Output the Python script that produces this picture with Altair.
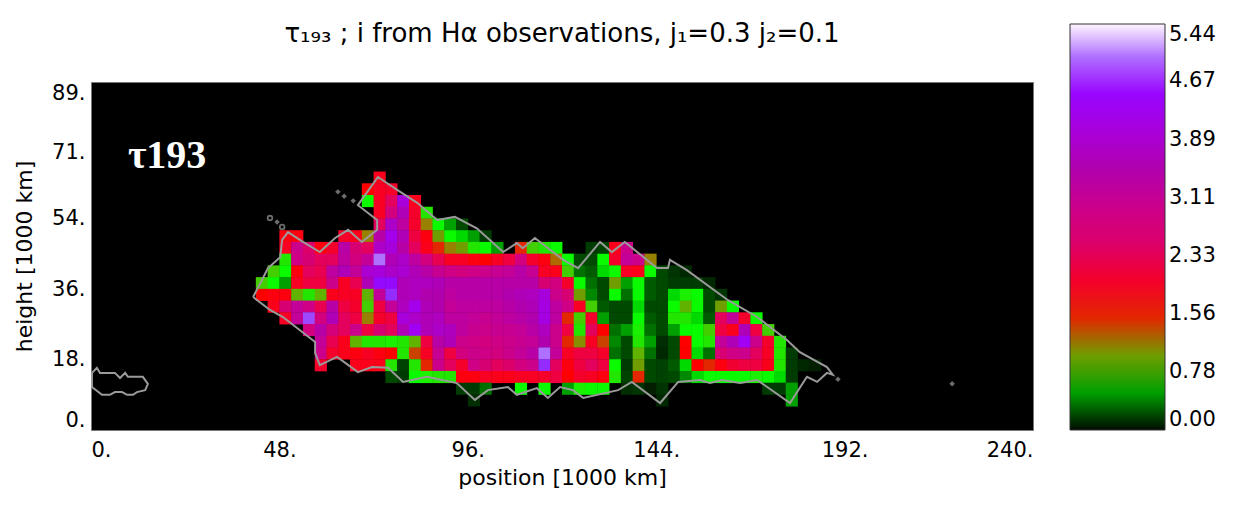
import altair as alt
import pandas as pd

# colour bar stops
stop_values = [0, 0.05, 0.31, 0.5, 0.58, 0.76, 0.98, 1.2, 1.43, 1.6, 2.1, 2.55, 3.08, 3.52, 3.98, 4.42, 4.73, 4.88, 5.05, 5.23, 5.44]
stop_colors = ["#000c00", "#002800", "#004a00", "#00a000", "#00ff00", "#28d800", "#6aa000", "#988000", "#d03000",
               "#ff0000", "#f00030", "#d80070", "#c80090", "#b000b0", "#a800d8", "#9c00ff", "#8f10ff", "#9a40ff", "#b880ff", "#e0c8ff", "#ffffff"]
bar_ticks = [0.0, 0.78, 1.56, 2.33, 3.11, 3.89, 4.67, 5.44]
x_ticks = [0, 48, 96, 144, 192, 240]
y_ticks = [0, 18, 36, 54, 71, 89]

# tau values: first column index, then values, one list per height band (1000 km)
h63 = (10, [1.8])
h60 = (9, [1.6, 1.9, 2.0])
h57 = (9, [.6, 1.9, 2.4, 4.0, 1.8])
h54 = (10, [1.9, 2.8, 3.6, 2.0, .7])
h51 = (10, [2.4, 3.8, 3.3, 2.0, 1.2, .6, .5, .3])
h48 = (2, [1.7, 1.7, 0, 0, 0, 2.0, 1.8, 1.2, 3.4, 4.2, 3.6, 2.2, 1.7, 1.0, .6, .55, .5, .2])
h45 = (2, [1.9, 3, 2.5, 1.7, 2, 3.4, 2.6, 2.4, 3.8, 4.0, 3.4, 2.4, 1.8, 1.5, 1.2, 1.0, .7, .6, .5, 0, 1.5, .8, .7, .6, 0, 0, .2, .25, 1.8, 3])
h42 = (2, [.7, 2.9, 2.6, 2.4, 2.4, 3.3, 2.8, 3.2, 5.0, 3.6, 3.8, 3.3, 2.8, 2.3, 1.9, 1.9, 1.7, 1.6, 1.9, 2.2, 2.8, 2.0, 1.7, 1.3, .6, .3, .3, .6, 2.0, 3.2, 3, 1.2])
h39 = (1, [.8, .6, 1.7, 2.4, 2.3, 3.3, 3.6, 3.2, 3.9, 4.0, 3.8, 3.9, 3.6, 3.4, 3.1, 2.9, 2.8, 2.9, 3.0, 3.1, 3.2, 3.4, 3.1, 1.9, 1.8, .8, .4, .35, .55, .6, 1.9, 1.8, .6, .3, .15, .05])
h36 = (0, [.8, .6, .5, 1.9, 2.2, 2.2, 3, 1.9, 2.3, 3.6, 4.6, 4.6, 3.6, 3.7, 3.7, 3.6, 3.4, 3.4, 3.4, 3.4, 3.4, 3.4, 3.4, 3.4, 2.6, 2.8, 2.0, .6, .4, .3, 1.0, .5, .6, .35, .3, .2, .2, .2, .05])
h33 = (0, [1.6, 1.7, 1.7, .9, .7, .9, 1.8, 1.9, 1.9, .9, 3.2, 4.8, 3.6, 3.7, 3.5, 3.5, 3.3, 3.4, 3.4, 3.4, 3.4, 3.5, 3.6, 3.7, 4.0, 3.0, 2.6, 1.0, .45, .3, .6, .4, .6, .35, .3, .55, .65, .6, .3, .15])
h30 = (1, [1.8, 2.6, 3.2, 2.9, 2.3, 3.4, 2.2, 2.0, .8, 2.2, 3.2, 3.7, 4.2, 3.6, 3.5, 3.2, 3.3, 3.3, 3.3, 3.3, 3.4, 3.5, 3.6, 4.1, 3.3, 2.9, 1.9, .8, .35, .3, .3, .55, .3, .3, .6, .9, .6, .3, 1.0, .6])
h27 = (2, [1.9, 3.2, 4.9, 2.8, 3.6, 2.4, 2.2, 1.2, 2.0, 2.2, 4.0, 3.8, 3.6, 3.7, 3.3, 3.3, 3.2, 3.1, 3.2, 3.3, 3.4, 3.5, 4.1, 3.3, 1.5, .8, 2.0, .5, .3, .3, .6, .35, .3, .7, .7, .55, .35, 2.4, 3.2, 2.0, .6])
h24 = (4, [2.8, 3.4, 2.7, 2.4, 3.0, 2.2, 2.6, 2.4, 3.6, 4.3, 3.6, 3.8, 3.7, 3.3, 3.1, 3.0, 3.1, 3.1, 3.2, 3.4, 3.7, 3, 2.2, .7, 2.4, 1.6, .4, .5, .65, .4, .3, .5, .6, .6, .8, 2.2, 1.8, 3.6, 2.2, .8])
h21 = (5, [3.2, 2.3, 1.8, .9, .7, .7, .65, .7, .9, 2.2, 3.4, 3.6, 3.0, 2.9, 2.8, 2.9, 3.0, 3.1, 3.2, 3.5, 3, 1.5, 1.1, 1.9, 1.4, .45, .3, .7, .5, .1, .3, 1.6, .6, .7, 3.2, 3.6, 4.3, 3, 2, .7])
h18 = (5, [3, 2, 1.8, 1.7, 1.9, 1.7, 1.6, .7, 1.4, 1.9, 3.1, 2.2, 2.8, 3.0, 2.9, 2.8, 3.0, 3.2, 3.4, 5, 3.2, 1.9, 2.2, 2.2, 2, .4, .3, .9, .4, .05, .3, 1.6, .55, .4, 2.6, 2.9, 3, 2.4, 1.9, .7, .2])
h15 = (5, [2.0, 0, 0, 1.8, 1.8, 1.8, .7, .25, .7, 1.5, 3.0, 2.4, 2.0, 2.9, 2.6, 2.4, 2.5, 2.8, 3.0, 4.8, 2.4, 1.7, 2.2, 2.4, 2.2, .6, .2, 1.0, .3, .25, .35, .55, 1.6, 1.5, 1.7, 2.1, 2.2, 2.2, 1.8, .7, .2, .05, .03])
h12 = (11, [.3, .2, .6, .65, .7, .7, 1.7, 1.7, 1.9, 1.8, 1.8, 1.9, 1.9, 2.0, 2.2, 1.6, 2.0, 1.9, 1.7, .7, .25, 1.5, .3, .25, .3, .45, .55, .6, .6, .6, .6, .65, .6, .55, .2])
h09 = (17, [.2, .2, .4, 0, 0, .6, 0, .6, 0, .5, .65, .6, .6, 0, .1, .15, .03, .15, 0, 0, 0, 0, 0, 0, 0, 0, .2, .2, .5])
h06 = (18, [.1, 0, 0, 0, 0, 0, 0, 0, 0, 0, 0, 0, 0, 0, 0, 0, .05, 0, 0, 0, 0, 0, 0, 0, 0, 0, 0, .5])

bands = {63: h63, 60: h60, 57: h57, 54: h54, 51: h51, 48: h48, 45: h45, 42: h42, 39: h39, 36: h36,
         33: h33, 30: h30, 27: h27, 24: h24, 21: h21, 18: h18, 15: h15, 12: h12, 9: h09, 6: h06}

# outlines (position, height in 1000 km)
main_x = [41.3, 45.1, 48.2, 48.7, 50.2, 54.0, 58.3, 62.2, 65.5, 69.0, 72.9, 72.9, 68.0, 73.1, 78.0, 83.1, 88.2, 92.7, 98.3, 105, 108.5, 110,
          113.1, 114.4, 120.3, 124.1, 129.7, 132.7, 136, 144.2, 147, 147.5, 151.8, 162.3, 169.7, 177.3, 180.6, 187.5, 189, 187.5, 185, 182.4,
          178.1, 169.7, 165.4, 160.8, 157.7, 155.2, 149.6, 145, 137.8, 134.3, 125.4, 122.8, 119.5, 116.4, 113.6, 108.5, 106.2, 101.1, 97.8,
          93.2, 85.6, 79.5, 75.7, 71.6, 68, 62.7, 58.3, 57.1, 57.1, 48.9, 45.6, 41.3]
main_y = [34.0, 41.4, 44.2, 48.6, 50.6, 48.1, 45.5, 49.1, 51.2, 48.1, 51.2, 53.7, 57.5, 64.7, 61.4, 58.1, 53.7, 54.5, 51.6, 45.5, 47.8, 46.5,
          49.1, 48.1, 43.5, 41.4, 48.1, 45.5, 48.1, 41.4, 41.4, 43.5, 40.9, 33.2, 28.9, 23, 19.9, 16.1, 14.1, 14.6, 12.3, 13.6,
          6.9, 12.8, 12, 12.8, 12, 12.8, 12.3, 6.9, 12.3, 10.2, 8.2, 10.2, 11, 8.2, 10.7, 9, 11, 10.2, 7.7,
          12, 13.6, 12.3, 15.9, 16.1, 14.8, 18.7, 16.6, 19.7, 22.5, 28.9, 30.7, 34]
blob_x = [.25, 1.5, 2.3, 6.1, 7.4, 8.7, 9.4, 13.2, 14.5, 13.8, 11.7, 10.7, 9.2, 7.9, 6.1, 4.8, 2.8, .25, .25]
blob_y = [14.6, 15.9, 14.6, 14.6, 13.3, 14.6, 13.6, 13.6, 11.8, 10.2, 9.7, 9, 9, 9.7, 9.7, 9, 9, 11, 14.6]
filled_x = [62.9, 64.5, 66.8, 47.4, 190.3, 219.4]
filled_y = [60.9, 59.8, 58.6, 53.2, 13, 11.8]
open_x = [45.6, 48.7]
open_y = [54.2, 51.9]

cells = []
for h, (start, vals) in bands.items():
    for i, v in enumerate(vals):
        if v > 0:
            p = 42 + 3 * (start + i)
            cells.append({"p": p, "p2": p + 3.1, "h": h, "h2": h + 3.1, "tau": v})
cells = pd.DataFrame(cells)

lines = pd.concat([
    pd.DataFrame({"x": main_x, "y": main_y, "g": "main", "o": range(len(main_x))}),
    pd.DataFrame({"x": blob_x, "y": blob_y, "g": "blob", "o": range(len(blob_x))}),
])
filled = pd.DataFrame({"x": filled_x, "y": filled_y})
opened = pd.DataFrame({"x": open_x, "y": open_y})
label = pd.DataFrame({"x": [9.4], "y": [67.0], "t": ["τ193"]})

FONT = "DejaVu Sans"
TEXT = "#000000"
x_scale = alt.Scale(domain=[0, 240], nice=False, zero=False)
y_scale = alt.Scale(domain=[0, 89], nice=False, zero=False)
c_scale = alt.Scale(domain=stop_values, range=stop_colors, type="linear")

rect = alt.Chart(cells).mark_rect().encode(
    x=alt.X("p:Q", scale=x_scale, axis=alt.Axis(
        values=x_ticks, title="position [1000 km]", labelExpr="datum.value + '.'", grid=False, ticks=False,
        domain=False, labelPadding=9, labelFontSize=21, labelFont=FONT, labelColor=TEXT,
        titleFontSize=22, titleFont=FONT, titleFontWeight="normal", titleColor=TEXT, titlePadding=7)),
    x2="p2:Q",
    y=alt.Y("h:Q", scale=y_scale, axis=alt.Axis(
        values=y_ticks, title="height [1000 km]", labelExpr="datum.value + '.'", grid=False, ticks=False,
        domain=False, labelPadding=6, labelFlush=True, labelFontSize=21, labelFont=FONT, labelColor=TEXT,
        titleFontSize=22, titleFont=FONT, titleFontWeight="normal", titleColor=TEXT, titlePadding=15)),
    y2="h2:Q",
    color=alt.Color("tau:Q", scale=c_scale,
                    legend=alt.Legend(orient="none", legendX=979, legendY=-58, title=None, direction="vertical",
                                      gradientLength=406, gradientThickness=95, values=bar_ticks, format=".2f",
                                      tickCount=100, labelFontSize=21, labelFont=FONT, labelColor=TEXT, labelOffset=4,
                                      gradientStrokeColor="#333", gradientStrokeWidth=1, padding=0)),
)
outline = alt.Chart(lines).mark_line(color="#9a9a9a", strokeWidth=2).encode(
    x=alt.X("x:Q", scale=x_scale), y=alt.Y("y:Q", scale=y_scale), detail="g:N", order="o:Q")
dots_f = alt.Chart(filled).mark_point(color="#9a9a9a", size=30, filled=True, shape="diamond").encode(
    x=alt.X("x:Q", scale=x_scale), y=alt.Y("y:Q", scale=y_scale))
dots_o = alt.Chart(opened).mark_point(color="#9a9a9a", size=22, filled=False, strokeWidth=1.8).encode(
    x=alt.X("x:Q", scale=x_scale), y=alt.Y("y:Q", scale=y_scale))
text = alt.Chart(label).mark_text(color="white", font="Liberation Serif", fontWeight="bold", fontSize=40,
                                  align="left", baseline="alphabetic").encode(
    x=alt.X("x:Q", scale=x_scale), y=alt.Y("y:Q", scale=y_scale), text="t:N")

chart = (rect + outline + dots_f + dots_o + text).properties(
    width=942, height=348,
    title=alt.TitleParams("τ₁₉₃ ; i from Hα observations, j₁=0.3 j₂=0.1", font=FONT, fontSize=26, fontWeight="normal",
                          color=TEXT, anchor="middle", offset=-23),
    autosize=alt.AutoSizeParams(type="none"),
    padding={"left": 83, "top": 74, "right": 213, "bottom": 65},
    background="white",
).configure_view(fill="black", stroke="#777", strokeWidth=1)

chart.save("out.html", embed_options={"renderer": "svg", "actions": False})
